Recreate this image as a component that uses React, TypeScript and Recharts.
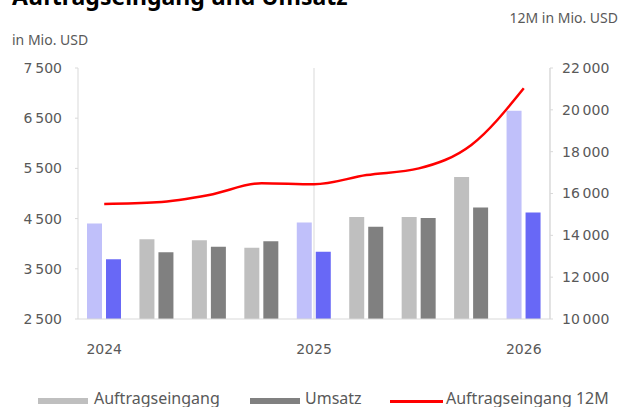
import { ComposedChart, Bar, Line, XAxis, YAxis, Cell, ReferenceLine, Legend } from "recharts"

const quarters = ["Q1 2024", "Q2 2024", "Q3 2024", "Q4 2024", "Q1 2025", "Q2 2025", "Q3 2025", "Q4 2025", "Q1 2026"]
const auftragseingang = [4400, 4090, 4070, 3920, 4420, 4530, 4530, 5330, 6650]
const umsatz = [3690, 3830, 3940, 4050, 3840, 4340, 4510, 4720, 4620]
const auftragseingang12M = [15500, 15580, 15930, 16490, 16440, 16880, 17200, 18320, 21030]
const highlighted = ["Q1 2024", "Q1 2025", "Q1 2026"]
const leftTicks = [2500, 3500, 4500, 5500, 6500, 7500]
const rightTicks = [10000, 12000, 14000, 16000, 18000, 20000, 22000]
const yearBoundaries = [4, 8]

const data = quarters.map((q, i) => ({
  name: q,
  auftragseingang: auftragseingang[i],
  umsatz: umsatz[i],
  ae12m: auftragseingang12M[i],
}))

const grey = "#595959"
const axisGrey = "#d9d9d9"
const tickFont = { fontFamily: "DejaVu Sans", fontSize: 14, fill: grey }

const fmt = (v: number) => `${Math.floor(v / 1000)}\u2009${String(v % 1000).padStart(3, "0")}`

function ChartLegend() {
  const text = { position: "absolute" as const, top: 2, fontSize: 16, lineHeight: "22px", color: grey }
  return (
    <div style={{ position: "relative", height: 22, fontFamily: "Noto Sans" }}>
      <div style={{ position: "absolute", left: 38, top: 13, width: 50, height: 6, background: "#bfbfbf" }} />
      <span style={{ ...text, left: 94 }}>Auftragseingang</span>
      <div style={{ position: "absolute", left: 250, top: 13, width: 50, height: 6, background: "#808080" }} />
      <span style={{ ...text, left: 305 }}>Umsatz</span>
      <div style={{ position: "absolute", left: 390, top: 15, width: 53, height: 3, background: "#ff0000" }} />
      <span style={{ ...text, left: 446 }}>Auftragseingang 12M</span>
    </div>
  )
}

export default function App() {
  return (
    <div style={{ position: "absolute", left: 0, top: 0, width: 622, height: 407, overflow: "hidden", fontFamily: "Noto Sans" }}>
      <div style={{ position: "absolute", left: 12, top: -15, fontSize: 23, lineHeight: "23px", fontWeight: 700, color: "#000" }}>
        Auftragseingang und Umsatz
      </div>
      <div style={{ position: "absolute", left: 12, top: 30, fontSize: 14, lineHeight: "20px", color: grey }}>in Mio. USD</div>
      <div style={{ position: "absolute", right: 4, top: 8, fontSize: 14, lineHeight: "20px", color: grey }}>12M in Mio. USD</div>
      <ComposedChart
        width={622}
        height={407}
        data={data}
        margin={{ top: 68, right: 0, bottom: 0, left: 0 }}
        barSize={15}
        barGap={4}
      >
        <XAxis
          dataKey="name"
          interval={0}
          tickLine={false}
          tickSize={0}
          tickMargin={25}
          height={66}
          axisLine={{ stroke: axisGrey }}
          tick={tickFont}
          tickFormatter={(q: string) => (q.startsWith("Q1") ? q.slice(3) : "")}
        />
        <XAxis xAxisId="n" type="number" domain={[0, quarters.length]} hide />
        <YAxis
          yAxisId="left"
          width={78}
          domain={[2500, 7500]}
          ticks={leftTicks}
          tickFormatter={fmt}
          tick={tickFont}
          tickSize={3}
          tickMargin={13}
          axisLine={{ stroke: axisGrey }}
          tickLine={{ stroke: axisGrey }}
        />
        <YAxis
          yAxisId="right"
          orientation="right"
          width={72}
          domain={[10000, 22000]}
          ticks={rightTicks}
          tickFormatter={fmt}
          tick={{ ...tickFont, textAnchor: "start" }}
          tickSize={3}
          tickMargin={9}
          axisLine={{ stroke: axisGrey }}
          tickLine={{ stroke: axisGrey }}
        />
        {yearBoundaries.map((b) => (
          <ReferenceLine key={b} xAxisId="n" yAxisId="left" x={b} stroke={axisGrey} />
        ))}
        <Legend verticalAlign="bottom" height={22} content={() => <ChartLegend />} />
        <Bar yAxisId="left" dataKey="auftragseingang" fill="#bfbfbf" isAnimationActive={false}>
          {data.map((d) => (
            <Cell key={d.name} fill={highlighted.includes(d.name) ? "#c0c0fa" : "#bfbfbf"} />
          ))}
        </Bar>
        <Bar yAxisId="left" dataKey="umsatz" fill="#808080" isAnimationActive={false}>
          {data.map((d) => (
            <Cell key={d.name} fill={highlighted.includes(d.name) ? "#6868f6" : "#808080"} />
          ))}
        </Bar>
        <Line
          yAxisId="right"
          type="monotone"
          dataKey="ae12m"
          stroke="#ff0000"
          strokeWidth={2.5}
          dot={false}
          isAnimationActive={false}
        />
      </ComposedChart>
    </div>
  )
}
